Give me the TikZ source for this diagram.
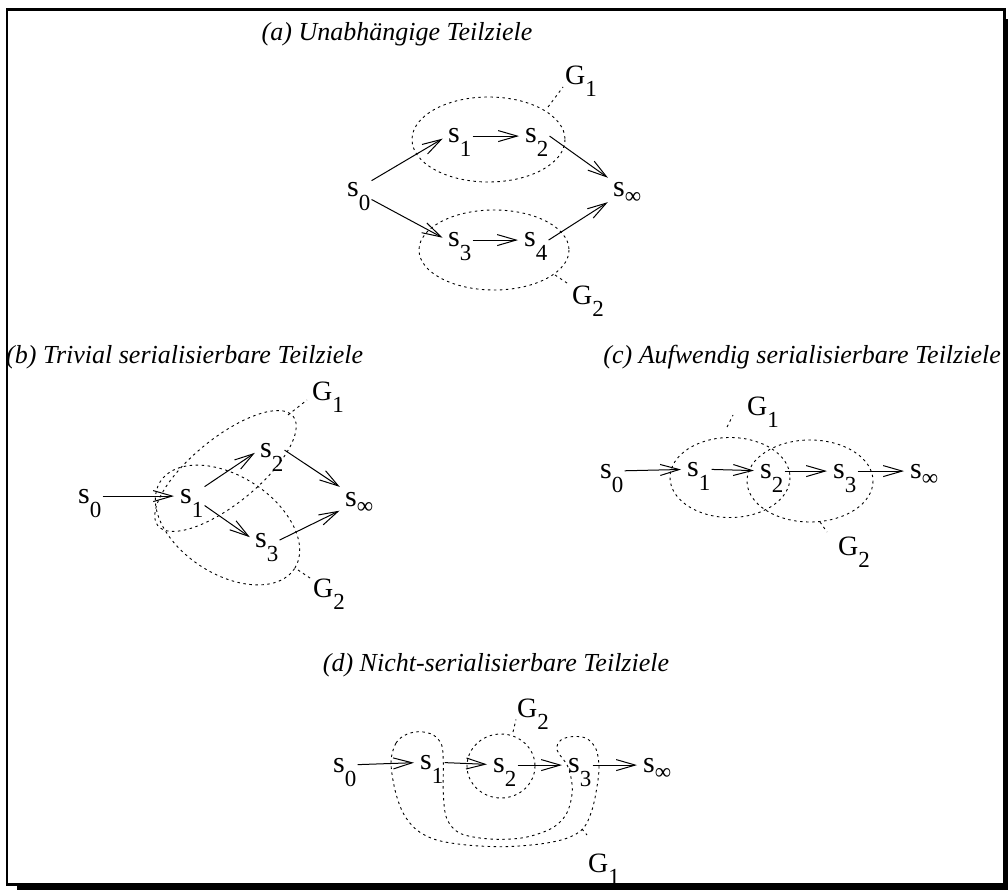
\documentclass[tikz,border=0pt]{standalone}
\usepackage{fontspec}
\setmainfont{Liberation Serif}
\usetikzlibrary{arrows.meta}

% state and goal names with lowered indices
\newcommand{\sz}[1]{s\smash{\raisebox{-14pt}{\fontsize{23}{23}\selectfont #1}}}
\newcommand{\sinf}{s\smash{\raisebox{-7pt}{\fontsize{23}{23}\selectfont ∞}}}
\newcommand{\gz}[1]{G\smash{\raisebox{-12pt}{\fontsize{23}{23}\selectfont #1}}}

\tikzset{
  state/.style={font=\fontsize{30}{32}\selectfont, inner xsep=1pt, inner ysep=2pt, anchor=base west},
  goalname/.style={font=\fontsize{28}{30}\selectfont, inner xsep=1pt, inner ysep=2pt, anchor=base west},
  title/.style={font=\fontsize{26}{30}\selectfont\itshape, inner sep=0pt},
  arr/.style={-{Straight Barb[length=19pt,width=11pt]}, line width=1pt, shorten >=5pt},
  goal/.style={line width=0.9pt, dash pattern=on 2.5pt off 3.5pt}
}

\begin{document}
\begin{tikzpicture}[x=1pt,y=-1pt]
		%%%%% FRAME %%%%%
		\useasboundingbox (0,0) rectangle (1008,890);
		\draw[line width=2.7pt] (7,9.3) rectangle (1004.3,884.6);
		\fill (17,884.6) rectangle (1008,890);
		\fill (1004.3,19) rectangle (1008,890);
		
		%%%%% (a) %%%%%
		\node[title, anchor=base] (ta) at (397,41) {(a) Unabhängige Teilziele};
		\node[state] (a0) at (346,197) {\sz{0}};
		\node[state] (a1) at (447,143) {\sz{1}};
		\node[state] (a2) at (524,143) {\sz{2}};
		\node[state] (a3) at (447,247) {\sz{3}};
		\node[state] (a4) at (523,247) {\sz{4}};
		\node[state] (ainf) at (612,197) {\sinf};
		
		\draw[arr] (a0.north east) -- (a1.west);
		\draw[arr] (a1.east) -- (a2.west);
		\draw[arr] (a2.east) -- (ainf.north west);
		\draw[arr] (a0.south east) -- (a3.west);
		\draw[arr] (a3.east) -- (a4.west);
		\draw[arr] (a4.east) -- (ainf.south west);
		
		\draw[goal] (488.5,139.5) ellipse [x radius=76.5, y radius=42.5];
		\draw[goal] (494,250) ellipse [x radius=75, y radius=40];
		
		\node[goalname] (ga1) at (564,85) {\gz{1}};
		\node[goalname] (ga2) at (571,305) {\gz{2}};
		\coordinate (ta1) at (548,107);
		\coordinate (ta2) at (555,275);
		\draw[goal] (ta1) -- ++(15,-20);
		\draw[goal] (ta2) -- ++(12,8);
		
		%%%%% (b) %%%%%
		\node[title, anchor=base west] (tb) at (6,363) {(b) Trivial serialisierbare Teilziele};
		\node[state] (b0) at (77,503) {\sz{0}};
		\node[state] (b1) at (179,503) {\sz{1}};
		\node[state] (b2) at (259,457) {\sz{2}};
		\node[state] (b3) at (254,547) {\sz{3}};
		\node[state] (binf) at (344,506) {\sinf};
		
		\draw[arr] (b0.east) -- (b1.west);
		\draw[arr] (b1.north east) -- (b2.west);
		\draw[arr] (b1.south east) -- (b3.west);
		\draw[arr] (b2.east) -- (binf.north west);
		\draw[arr] (b3.east) -- (binf.south west);
		
		\draw[goal, rotate around={39:(225.5,471)}] (225.5,471) ellipse [x radius=87, y radius=33];
		\draw[goal, rotate around={-33:(227.5,525)}] (227.5,525) ellipse [x radius=80, y radius=49];
		
		\node[goalname] (gb1) at (311,400) {\gz{1}};
		\node[goalname] (gb2) at (312,597) {\gz{2}};
		\coordinate (tb1) at (288,415);
		\coordinate (tb2) at (298,570);
		\draw[goal] (tb1) -- ++(19,-15);
		\draw[goal] (tb2) -- ++(12,8);
		
		%%%%% (c) %%%%%
		\node[title, anchor=base east] (tc) at (1001,363) {(c) Aufwendig serialisierbare Teilziele};
		\node[state] (c0) at (599,478) {\sz{0}};
		\node[state] (c1) at (686,476) {\sz{1}};
		\node[state] (c2) at (759,478) {\sz{2}};
		\node[state] (c3) at (832,478) {\sz{3}};
		\node[state] (cinf) at (909,478) {\sinf};
		
		\draw[arr] (c0) -- (c1);
		\draw[arr] (c1) -- (c2);
		\draw[arr] (c2) -- (c3);
		\draw[arr] (c3) -- (cinf);
		
		\draw[goal] (730,477.5) ellipse [x radius=60, y radius=40];
		\draw[goal] (810,481) ellipse [x radius=63, y radius=41];
		
		\node[goalname] (gc1) at (746,415) {\gz{1}};
		\node[goalname] (gc2) at (837,555) {\gz{2}};
		\coordinate (tc1) at (727,427);
		\coordinate (tc2) at (820,522);
		\draw[goal] (tc1) -- ++(6,-12);
		\draw[goal] (tc2) -- ++(7,10);
		
		%%%%% (d) %%%%%
		\node[title, anchor=base] (td) at (496,671) {(d) Nicht-serialisierbare Teilziele};
		\node[state] (d0) at (332,772) {\sz{0}};
		\node[state] (d1) at (419,769) {\sz{1}};
		\node[state] (d2) at (492,772) {\sz{2}};
		\node[state] (d3) at (567,772) {\sz{3}};
		\node[state] (dinf) at (642,772) {\sinf};
		
		\draw[arr] (d0) -- (d1);
		\draw[arr] (d1) -- (d2);
		\draw[arr] (d2) -- (d3);
		\draw[arr] (d3) -- (dinf);
		
		\draw[goal] (501,766) ellipse [x radius=34, y radius=32];
		\draw[goal] plot[smooth cycle, tension=0.55] coordinates {
			(391,762) (396,743) (406.7,734.3) (420,731.7) (433.3,735) (441.7,745)
			(443.3,763.3) (443.3,793.3) (446.7,818.3) (460,833.3) (490,839) (523.3,837.7)
			(551.7,828.3) (566.7,813.3) (572.3,790) (568,767) (557,750) (561,740)
			(573.3,736.5) (586.7,738.5) (596,749) (599,766.7) (597,786.7) (592,810)
			(583.3,828.3) (566.7,838.3) (540,844) (503.3,846.7) (466.7,845) (436.7,840)
			(416.7,830) (403.3,813.3) (395,790)};
		
		\node[goalname] (gd2) at (516,717) {\gz{2}};
		\node[goalname] (gd1) at (587,872) {\gz{1}};
		\coordinate (td2) at (513,732);
		\coordinate (td1) at (582,829);
		\draw[goal] (td2) -- (gd2.south west);
		\draw[goal] (td1) -- ++(5,6);
		
		%%%%% END %%%%%
\end{tikzpicture}
\end{document}
